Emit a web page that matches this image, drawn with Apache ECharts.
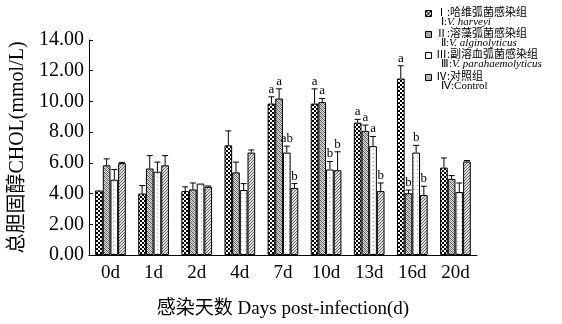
<!DOCTYPE html>
<html><head><meta charset="utf-8">
<script src="https://cdn.jsdelivr.net/npm/echarts@6/dist/echarts.min.js"></script>
<style>html,body{margin:0;padding:0;background:#fff}#c{width:562px;height:324px}</style>
</head><body><div id="c"></div>
<script>
const categories = ['0d','1d','2d','4d','7d','10d','13d','16d','20d'];
const yTicks = [0,2,4,6,8,10,12,14];
const seriesNames = ['Ⅰ','Ⅱ','Ⅲ','Ⅳ'];
const s1 = [4.20,4.00,4.16,7.14,9.86,9.86,8.62,11.49,5.69];
const e1 = [0.00,0.52,0.28,0.94,0.44,0.96,0.21,0.83,0.63];
const s2 = [5.84,5.63,4.27,5.38,10.19,9.96,8.08,4.02,4.96];
const e2 = [0.42,0.84,0.42,0.67,0.63,0.23,0.38,0.21,0.21];
const s3 = [4.90,5.42,4.65,4.23,6.67,5.57,7.09,6.67,4.10];
const e3 = [0.67,0.63,0.00,0.42,0.42,0.52,0.63,0.47,0.59];
const s4 = [5.98,5.84,4.44,6.67,4.37,5.52,4.16,3.91,6.09];
const e4 = [0.05,0.63,0.05,0.17,0.28,1.20,0.53,0.57,0.06];
const L1 = ['','','','','a','a','a','a',''];
const L2 = ['','','','','a','a','a','b',''];
const L3 = ['','','','','ab','b','a','b',''];
const L4 = ['','','','','b','b','b','b',''];
const legendLine1 = ['Ⅰ:哈维弧菌感染组','Ⅱ:溶藻弧菌感染组','Ⅲ:副溶血弧菌感染组','Ⅳ:对照组'];
const legendPrefix2 = ['Ⅰ:','Ⅱ:','Ⅲ:','Ⅳ:'];
const legendLatin2 = ['V. harveyi','V. alginolyticus','V. parahaemolyticus','Control'];
const legendItalic = [true,true,true,false];

const vals = [s1,s2,s3,s4], errs=[e1,e2,e3,e4], lets=[L1,L2,L3,L4];

function mk(w,h,draw){const c=document.createElement('canvas');c.width=w;c.height=h;const g=c.getContext('2d');draw(g);return c;}
const pat = [
  mk(4,4,g=>{g.fillStyle='#fff';g.fillRect(0,0,4,4);g.fillStyle='#000';g.fillRect(0,0,2,2);g.fillRect(2,2,2,2);}),
  mk(4,4,g=>{g.fillStyle='#d8d8d8';g.fillRect(0,0,4,4);g.fillStyle='#555';for(let i=0;i<4;i++){g.fillRect(i,i,1,1);}g.fillStyle='#999';for(let i=0;i<4;i++){g.fillRect((i+2)%4,i,1,1);}}),
  mk(4,4,g=>{g.fillStyle='#fff';g.fillRect(0,0,4,4);g.fillStyle='#aaa';g.fillRect(1,1,1,1);}),
  mk(3,3,g=>{g.fillStyle='#e0e0e0';g.fillRect(0,0,3,3);g.fillStyle='#666';for(let i=0;i<3;i++){g.fillRect(2-i,i,1,1);}})
];
const fills = pat.map(p=>({image:p,repeat:'repeat'}));

const BW = 0.178;
const series = [];
for(let k=0;k<4;k++){
  series.push({type:'bar',name:seriesNames[k],data:vals[k],barWidth:(BW*100)+'%',barGap:'0%',
    itemStyle:{color:fills[k],borderColor:'#000',borderWidth:1},z:2});
}
for(let k=0;k<4;k++){
  series.push({type:'custom',z:5,silent:true,
    data:categories.map((c,i)=>[i,vals[k][i],errs[k][i]]),
    renderItem:function(params,api){
      const i=api.value(0),v=api.value(1),e=api.value(2);
      const p0=api.coord([i,v]),p1=api.coord([i,v+e]);
      const bw=api.size([1,0])[0]*BW;
      const cx=p0[0]+(k-1.5)*bw;
      const ch=[];
      if(e>0){
        ch.push({type:'line',shape:{x1:cx,y1:p0[1],x2:cx,y2:p1[1]},style:{stroke:'#000',lineWidth:1}});
        ch.push({type:'line',shape:{x1:cx-3,y1:p1[1],x2:cx+3,y2:p1[1]},style:{stroke:'#000',lineWidth:1}});
      }
      const t=lets[k][params.dataIndex];
      if(t){ch.push({type:'text',style:{text:t,x:cx,y:p1[1]-1,align:'center',verticalAlign:'bottom',fontFamily:'Liberation Serif',fontSize:13,fill:'#000'}});}
      return {type:'group',children:ch};
    }});
}

const legendGraphics=[];
const ly=[13,34,55,77];
for(let k=0;k<4;k++){
  legendGraphics.push({type:'rect',left:425,top:ly[k]-3,shape:{width:6,height:6},style:{fill:fills[k],stroke:'#000',lineWidth:1}});
  legendGraphics.push({type:'text',left:436,top:ly[k]-7,style:{text:legendLine1[k],fontFamily:'Noto Sans CJK SC',fontSize:11,fill:'#000'}});
  legendGraphics.push({type:'text',left:441,top:ly[k]+4,style:{
    text:'{pre|'+legendPrefix2[k]+'}{'+(legendItalic[k]?'ita':'rom')+'|'+legendLatin2[k]+'}',
    fontFamily:'Liberation Serif',fontSize:11,fill:'#000',
    rich:{pre:{fontFamily:'Liberation Serif',fontSize:11,fill:'#000'},
          ita:{fontFamily:'Liberation Serif',fontStyle:'italic',fontSize:11,fill:'#000'},
          rom:{fontFamily:'Liberation Serif',fontStyle:'normal',fontSize:11,fill:'#000'}}}});
}

const chart=echarts.init(document.getElementById('c'),null,{renderer:'canvas'});
chart.setOption({
  animation:false,
  backgroundColor:'#fff',
  grid:{left:86,right:85,top:40,bottom:61,containLabel:false},
  xAxis:{type:'category',data:categories,
    axisLine:{lineStyle:{color:'#000',width:1}},
    axisTick:{inside:true,length:4,lineStyle:{color:'#000'}},
    axisLabel:{color:'#000',fontFamily:'Liberation Serif',fontSize:19,margin:9},
    name:'感染天数 Days post-infection(d)',nameLocation:'middle',nameGap:45,
    nameTextStyle:{color:'#000',fontFamily:'Liberation Serif, Noto Sans CJK SC',fontSize:19}},
  yAxis:{type:'value',min:0,max:14,interval:2,
    axisLine:{show:true,lineStyle:{color:'#000',width:1}},
    axisTick:{show:true,inside:true,length:4,lineStyle:{color:'#000'}},
    splitLine:{show:false},
    axisLabel:{color:'#000',fontFamily:'Liberation Serif',fontSize:20,margin:5,formatter:v=>yTicks.includes(v)?v.toFixed(2):''},
    name:'总胆固醇CHOL(mmol/L)',nameLocation:'middle',nameGap:60,nameRotate:90,
    nameTextStyle:{color:'#000',fontFamily:'Liberation Serif, Noto Sans CJK SC',fontSize:20}},
  series:series,
  graphic:legendGraphics
});
</script></body></html>
